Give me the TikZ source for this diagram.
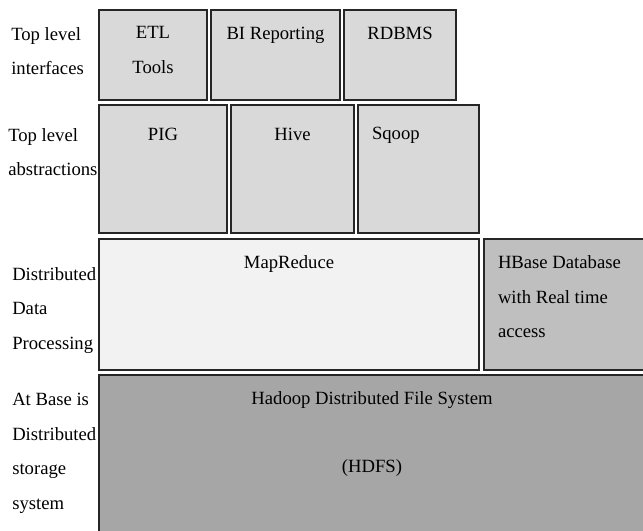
\documentclass[tikz,border=0pt]{standalone}
\usepackage{fontspec}
\setmainfont{Liberation Serif}
\usetikzlibrary{positioning,fit}
\definecolor{layergray}{RGB}{217,217,217}
\definecolor{mrgray}{RGB}{242,242,242}
\definecolor{hbasegray}{RGB}{191,191,191}
\definecolor{hdfsgray}{RGB}{166,166,166}
\definecolor{edgegray}{RGB}{38,38,38}

\begin{document}
\begin{tikzpicture}[x=0.75pt,y=-0.75pt,box/.style={draw=edgegray,line width=1.4pt,inner sep=0pt},txt/.style={inner sep=0pt,align=center,font=\fontsize{14}{26}\selectfont},side/.style={txt,align=left,anchor=north west}]
\useasboundingbox (0,0) rectangle (643,531);
% layer boxes
\node[box,fill=layergray,fit={(99,10)(207,100)}](etl){};
\node[box,fill=layergray,fit={(211,10)(340,100)}](bi){};
\node[box,fill=layergray,fit={(344,10)(456,100)}](rdbms){};
\node[box,fill=layergray,fit={(99,105)(227,233)}](pig){};
\node[box,fill=layergray,fit={(231,105)(354,233)}](hive){};
\node[box,fill=layergray,fit={(358,105)(479,233)}](sqoop){};
\node[box,fill=mrgray,fit={(99,239)(479,370)}](mapred){};
\node[box,fill=hbasegray,fit={(484,239)(645,370)}](hbase){};
\node[box,fill=hdfsgray,fit={(99,375)(645,540)}](hdfs){};
% texts in the boxes
\node[txt,below=13pt of etl.north](etltext){ETL\\Tools};
\node[txt,below=13pt of bi.north](bitext){BI Reporting};
\node[txt,below=13pt of rdbms.north](rdbmstext){RDBMS};
\node[txt,below=17.5pt of pig.north](pigtext){PIG};
\node[txt,below=17.5pt of hive.north](hivetext){Hive};
\node[txt,anchor=north west,below right=17pt and 11pt of sqoop.north west](sqooptext){Sqoop};
\node[txt,below=13pt of mapred.north](mapredtext){MapReduce};
\node[side,below right=13pt and 11pt of hbase.north west](hbasetext){HBase Database\\with Real time\\access};
\node[txt,below=13pt of hdfs.north](hdfstext){Hadoop Distributed File System\\[25pt](HDFS)};
% layer names
\node[side](ifaces) at (11,27){Top level\\interfaces};
\node[side](abstr) at (8,128){Top level\\abstractions};
\node[side](proc) at (12,267){Distributed\\Data\\Processing};
\node[side](store) at (12,393){At Base is\\Distributed\\storage\\system};
\end{tikzpicture}
\end{document}
